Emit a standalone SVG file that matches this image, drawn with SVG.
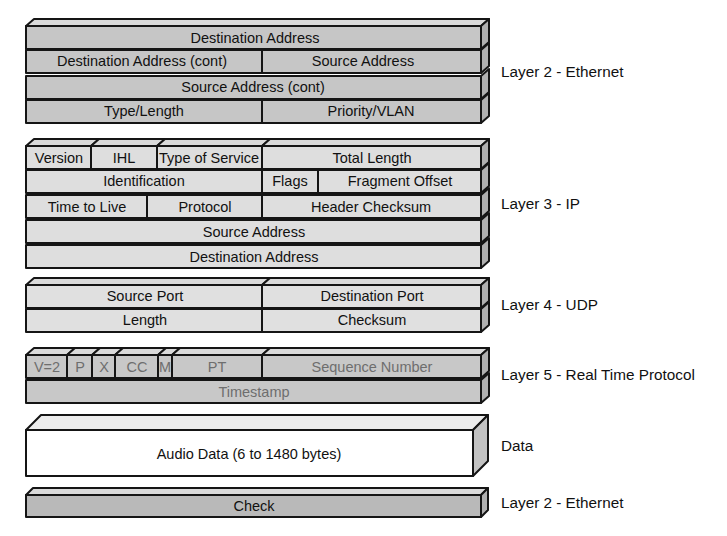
<svg xmlns="http://www.w3.org/2000/svg" width="727" height="536" viewBox="0 0 727 536">
<style>
  .s{stroke:#151515;stroke-width:2;stroke-linejoin:round}
  .eth{fill:#c6c6c6}
  .ip{fill:#dedede}
  .udp{fill:#e0e0e0}
  .rtp{fill:#c8c8c8}
  .chk{fill:#b9b9b9}
  .dat{fill:#ffffff}
  .top{fill:#dadada}
  .side{fill:#b0b0b0}
  text{font-family:"Liberation Sans",Arial,sans-serif;font-size:14.5px;fill:#111;text-anchor:middle}
  .g text{fill:#6e6e6e}
  .lbl{text-anchor:start;font-size:15.3px}
</style>
<rect width="727" height="536" fill="#ffffff"/>

<!-- Ethernet header -->
<g id="ethernet-header">
  <polygon class="s top" points="26,26 34,19 489,19 481,26"/>
  <polygon class="s side" points="481,26 489,19 489,42 481,49"/>
  <rect class="s eth" x="26" y="26" width="455" height="23"/>
  <polygon class="s side" points="481,50 489,43 489,66 481,73"/>
  <rect class="s eth" x="26" y="50" width="455" height="23"/>
  <polygon class="s side" points="481,76 489,69 489,92 481,99"/>
  <rect class="s eth" x="26" y="76" width="455" height="23"/>
  <polygon class="s side" points="481,100 489,93 489,116 481,123"/>
  <rect class="s eth" x="26" y="100" width="455" height="23"/>
  <line class="s" x1="262" y1="50" x2="262" y2="73"/>
  <line class="s" x1="262" y1="100" x2="262" y2="123"/>
  <text x="255" y="43">Destination Address</text>
  <text x="142" y="66">Destination Address (cont)</text>
  <text x="363" y="66">Source Address</text>
  <text x="253" y="92">Source Address (cont)</text>
  <text x="144" y="116">Type/Length</text>
  <text x="371" y="116">Priority/VLAN</text>
</g>

<!-- IP header -->
<g id="ip-header">
  <polygon class="s top" points="26,146 34,139 99,139 91,146"/>
  <polygon class="s top" points="91,146 99,139 165,139 157,146"/>
  <polygon class="s top" points="157,146 165,139 270,139 262,146"/>
  <polygon class="s top" points="262,146 270,139 489,139 481,146"/>
  <polygon class="s side" points="481,146 489,139 489,162 481,169"/>
  <rect class="s ip" x="26" y="146" width="455" height="23"/>
  <polygon class="s side" points="481,170 489,163 489,186 481,193"/>
  <rect class="s ip" x="26" y="170" width="455" height="23"/>
  <polygon class="s side" points="481,195 489,188 489,211 481,218"/>
  <rect class="s ip" x="26" y="195" width="455" height="23"/>
  <polygon class="s side" points="481,220 489,213 489,236 481,243"/>
  <rect class="s ip" x="26" y="220" width="455" height="23"/>
  <polygon class="s side" points="481,245 489,238 489,261 481,268"/>
  <rect class="s ip" x="26" y="245" width="455" height="23"/>
  <line class="s" x1="91" y1="146" x2="91" y2="169"/>
  <line class="s" x1="157" y1="146" x2="157" y2="169"/>
  <line class="s" x1="262" y1="146" x2="262" y2="169"/>
  <line class="s" x1="262" y1="170" x2="262" y2="193"/>
  <line class="s" x1="318" y1="170" x2="318" y2="193"/>
  <line class="s" x1="147" y1="195" x2="147" y2="218"/>
  <line class="s" x1="262" y1="195" x2="262" y2="218"/>
  <text x="59" y="163">Version</text>
  <text x="124" y="163">IHL</text>
  <text x="209" y="163">Type of Service</text>
  <text x="372" y="163">Total Length</text>
  <text x="144" y="186">Identification</text>
  <text x="290" y="186">Flags</text>
  <text x="400" y="186">Fragment Offset</text>
  <text x="87" y="212">Time to Live</text>
  <text x="205" y="212">Protocol</text>
  <text x="371" y="212">Header Checksum</text>
  <text x="254" y="237">Source Address</text>
  <text x="254" y="262">Destination Address</text>
</g>

<!-- UDP header -->
<g id="udp-header">
  <polygon class="s top" points="26,285 34,278 270,278 262,285"/>
  <polygon class="s top" points="262,285 270,278 489,278 481,285"/>
  <polygon class="s side" points="481,285 489,278 489,301 481,308"/>
  <rect class="s udp" x="26" y="285" width="455" height="23"/>
  <polygon class="s side" points="481,309 489,302 489,325 481,332"/>
  <rect class="s udp" x="26" y="309" width="455" height="23"/>
  <line class="s" x1="262" y1="285" x2="262" y2="308"/>
  <line class="s" x1="262" y1="309" x2="262" y2="332"/>
  <text x="145" y="301">Source Port</text>
  <text x="372" y="301">Destination Port</text>
  <text x="145" y="325">Length</text>
  <text x="372" y="325">Checksum</text>
</g>

<!-- RTP header -->
<g id="rtp-header" class="g">
  <polygon class="s top" points="26,355 34,348 75,348 67,355"/>
  <polygon class="s top" points="67,355 75,348 100,348 92,355"/>
  <polygon class="s top" points="92,355 100,348 123,348 115,355"/>
  <polygon class="s top" points="115,355 123,348 166,348 158,355"/>
  <polygon class="s top" points="158,355 166,348 180,348 172,355"/>
  <polygon class="s top" points="172,355 180,348 270,348 262,355"/>
  <polygon class="s top" points="262,355 270,348 489,348 481,355"/>
  <polygon class="s side" points="481,355 489,348 489,371 481,378"/>
  <rect class="s rtp" x="26" y="355" width="455" height="23"/>
  <polygon class="s side" points="481,380 489,373 489,396 481,403"/>
  <rect class="s rtp" x="26" y="380" width="455" height="23"/>
  <line class="s" x1="67" y1="355" x2="67" y2="378"/>
  <line class="s" x1="92" y1="355" x2="92" y2="378"/>
  <line class="s" x1="115" y1="355" x2="115" y2="378"/>
  <line class="s" x1="158" y1="355" x2="158" y2="378"/>
  <line class="s" x1="172" y1="355" x2="172" y2="378"/>
  <line class="s" x1="262" y1="355" x2="262" y2="378"/>
  <text x="47" y="372">V=2</text>
  <text x="80" y="372">P</text>
  <text x="104" y="372">X</text>
  <text x="137" y="372">CC</text>
  <text x="165" y="372">M</text>
  <text x="217" y="372">PT</text>
  <text x="372" y="372">Sequence Number</text>
  <text x="254" y="397">Timestamp</text>
</g>

<!-- Data -->
<g id="audio-data">
  <polygon class="s" fill="#ececec" points="26,430 41,415 488,415 473,430"/>
  <polygon class="s" fill="#c2c2c2" points="473,430 488,415 488,461 473,476"/>
  <rect class="s dat" x="26" y="430" width="447" height="46"/>
  <text x="249" y="459">Audio Data (6 to 1480 bytes)</text>
</g>

<!-- Check -->
<g id="ethernet-check">
  <polygon class="s top" points="26,495 33,488 488,488 481,495"/>
  <polygon class="s side" points="481,495 488,488 488,510 481,517"/>
  <rect class="s chk" x="26" y="495" width="455" height="22"/>
  <text x="254" y="511">Check</text>
</g>

<g id="connectors"></g>

<g id="layer-labels">
  <text class="lbl" x="501" y="77">Layer 2 - Ethernet</text>
  <text class="lbl" x="501" y="209">Layer 3 - IP</text>
  <text class="lbl" x="501" y="310">Layer 4 - UDP</text>
  <text class="lbl" x="501" y="380">Layer 5 - Real Time Protocol</text>
  <text class="lbl" x="501" y="451">Data</text>
  <text class="lbl" x="501" y="508">Layer 2 - Ethernet</text>
</g>
</svg>
